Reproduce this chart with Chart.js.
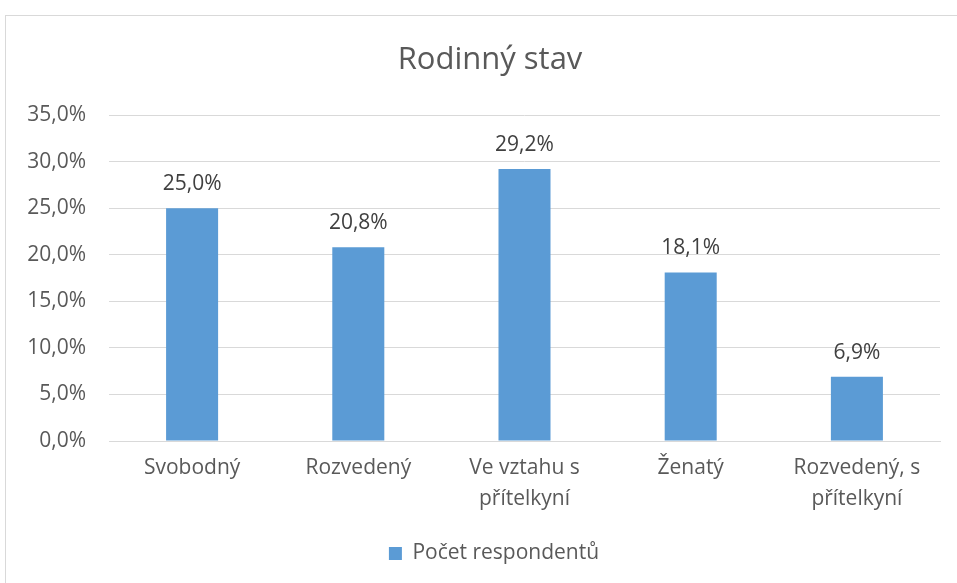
<!DOCTYPE html>
<html>
<head>
<meta charset="utf-8">
<script src="https://cdn.jsdelivr.net/npm/chart.js@4"></script>
<style>
    body { margin: 0; background: #fff; }
    #frame { position: absolute; left: 5px; top: 15px; width: 1000px; height: 1000px; border: 1px solid #d9d9d9; }
    #wrap { position: absolute; left: 0; top: 0; width: 957px; height: 583px; }
</style>
</head>
<body>
<div id="frame"></div>
<div id="wrap"><canvas id="chart" width="957" height="583"></canvas></div>
<script>
// Data
const categories = ['Svobodný', 'Rozvedený', ['Ve vztahu s', 'přítelkyní'], 'Ženatý', ['Rozvedený, s', 'přítelkyní']];
const respondents = [25.0, 20.8, 29.2, 18.1, 6.9];
const seriesName = 'Počet respondentů';

const fontFamily = '"Open Sans", sans-serif';

function fmt(v) {
    return v.toFixed(1).replace('.', ',') + '%';
}

// Value labels above bars
const valueLabels = {
    id: 'valueLabels',
    afterDatasetsDraw(chart) {
        const ctx = chart.ctx;
        const meta = chart.getDatasetMeta(0);
        ctx.save();
        ctx.font = '21px ' + fontFamily;
        ctx.fillStyle = '#404040';
        ctx.textAlign = 'center';
        ctx.textBaseline = 'middle';
        meta.data.forEach((bar, i) => {
            ctx.fillText(fmt(respondents[i]), bar.x, bar.y - 24);
        });
        ctx.restore();
    }
};

// Title and legend sit a bit right of the canvas centre, like the original
const blockShift = {
    id: 'blockShift',
    afterLayout(chart) {
        if (chart.legend) chart.legend.left += 48;
        if (chart.titleBlock) chart.titleBlock.left += 40;
    }
};

const ctx = document.getElementById('chart').getContext('2d');
new Chart(ctx, {
    type: 'bar',
    data: {
        labels: categories,
        datasets: [{
            label: seriesName,
            data: respondents,
            backgroundColor: '#5b9bd5',
            barPercentage: 0.313,
            categoryPercentage: 1
        }]
    },
    options: {
        responsive: false,
        animation: false,
        layout: { padding: { left: 0, right: 17, top: 0, bottom: 9 } },
        plugins: {
            title: {
                display: true,
                text: 'Rodinný stav',
                color: '#595959',
                font: { family: fontFamily, size: 31, weight: 'normal' },
                padding: { top: 42, bottom: 35.8 }
            },
            legend: {
                position: 'bottom',
                labels: {
                    color: '#595959',
                    font: { family: fontFamily, size: 21 },
                    boxWidth: 13,
                    boxHeight: 13,
                    padding: 9
                }
            },
            tooltip: { enabled: false }
        },
        scales: {
            x: {
                grid: { display: false, drawTicks: false },
                border: { display: true, color: '#d9d9d9' },
                ticks: {
                    color: '#595959',
                    font: { family: fontFamily, size: 21, lineHeight: 1.45 },
                    padding: 12,
                    maxRotation: 0,
                    autoSkip: false
                },
                afterFit(scale) { scale.height = 93; }
            },
            y: {
                min: 0,
                max: 35,
                grid: { color: '#d9d9d9', drawTicks: false },
                border: { display: false },
                ticks: {
                    stepSize: 5,
                    color: '#595959',
                    font: { family: fontFamily, size: 21 },
                    padding: 23,
                    callback: (v) => fmt(v)
                },
                afterFit(scale) { scale.width = 109; }
            }
        }
    },
    plugins: [valueLabels, blockShift]
});
</script>
</body>
</html>
